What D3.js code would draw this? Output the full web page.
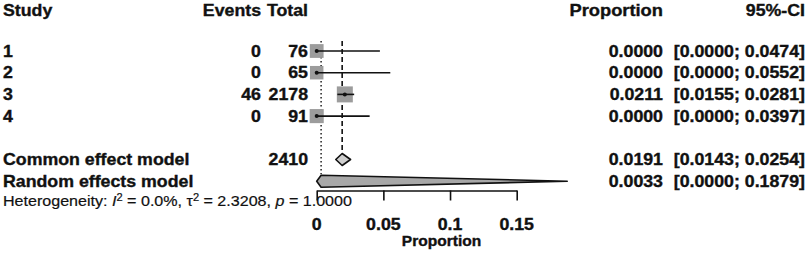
<!DOCTYPE html>
<html lang="en">
<head>
    <meta charset="UTF-8">
    <title>Forest plot - proportion</title>
    <script src="https://d3js.org/d3.v7.min.js"></script>
    <style>
        body {
            margin: 0;
            padding: 0;
            background: #fff;
        }

        #chart text {
            font-family: "Liberation Sans", Arial, Helvetica, sans-serif;
            fill: #111;
        }

        /* reference print is slightly heavy / blurred */
        #chart text.heavy {
            stroke: #111;
            stroke-width: 0.35px;
        }
    </style>
</head>
<body>
    <svg id="chart"></svg>

    <script>
        // Study level data
        const studies = ["1", "2", "3", "4"];
        const events = [0, 0, 46, 0];
        const totals = [76, 65, 2178, 91];
        const props = [0.0000, 0.0000, 0.0211, 0.0000];
        const lower = [0.0000, 0.0000, 0.0155, 0.0000];
        const upper = [0.0474, 0.0552, 0.0281, 0.0397];
        const weights = [23, 22, 31, 24]; // read from square sizes (approx.)

        // Pooled estimates
        const models = ["Common effect model", "Random effects model"];
        const modelTotals = [2410, null];
        const modelEst = [0.0191, 0.0033];
        const modelLower = [0.0143, 0.0000];
        const modelUpper = [0.0254, 0.1879];

        const hetI2 = "0.0%";
        const hetTau2 = "2.3208";
        const hetP = "1.0000";

        const xTicks = [0, 0.05, 0.1, 0.15];
        const xTickLabels = ["0", "0.05", "0.1", "0.15"];

        const W = 809, H = 258;
        const stretch = 1.11; // text in the reference is a bit wider than tall

        const svg = d3.select("#chart")
            .attr("width", W)
            .attr("height", H);

        const x = d3.scaleLinear()
            .domain([0, 0.15])
            .range([316.7, 516.7]);

        // row index -> vertical centre
        const y = d3.scaleLinear()
            .domain([0, 1])
            .range([51, 72.7]);

        const size = d3.scaleSqrt()
            .domain([0, d3.max(weights)])
            .range([0, 16]);

        // helper for stretched text
        function label(xPos, yPos, str, anchor, weight, fontSize) {
            return svg.append("text")
                .attr("class", "heavy")
                .attr("transform", `translate(${xPos},${yPos}) scale(${stretch},1)`)
                .attr("text-anchor", anchor)
                .style("font-weight", weight)
                .style("font-size", fontSize + "px")
                .text(str);
        }

        const colEvents = 261, colTotal = 308, colProp = 663, colCI = 805;
        const base = 5.5; // baseline offset from row centre

        // headers
        const headY = 16;
        label(3, headY, "Study", "start", "bold", 16);
        label(colEvents, headY, "Events", "end", "bold", 16);
        label(colTotal, headY, "Total", "end", "bold", 16);
        label(colProp, headY, "Proportion", "end", "bold", 16.5);
        label(colCI, headY, "95%-CI", "end", "bold", 16);

        // reference lines (common = dashed, random = dotted)
        svg.append("line")
            .attr("x1", x(modelEst[0])).attr("x2", x(modelEst[0]))
            .attr("y1", y(0) - 10).attr("y2", y(5) - 9)
            .attr("stroke", "#111")
            .attr("stroke-width", 1.6)
            .attr("stroke-dasharray", "5,3");

        svg.append("line")
            .attr("x1", x(modelEst[1])).attr("x2", x(modelEst[1]))
            .attr("y1", y(0) - 10).attr("y2", y(6) - 7)
            .attr("stroke", "#111")
            .attr("stroke-width", 1.4)
            .attr("stroke-dasharray", "1.5,2.5");

        // study rows
        studies.forEach((s, i) => {
            const cy = y(i);
            label(3, cy + base, s, "start", "bold", 16);
            label(colEvents, cy + base, events[i], "end", "bold", 16);
            label(colTotal, cy + base, totals[i], "end", "bold", 16);
            label(colProp, cy + base, d3.format(".4f")(props[i]), "end", "bold", 16);
            label(colCI, cy + base,
                `[${d3.format(".4f")(lower[i])}; ${d3.format(".4f")(upper[i])}]`,
                "end", "bold", 16);

            const sz = size(weights[i]);
            svg.append("rect")
                .attr("x", x(props[i]) - sz / 2)
                .attr("y", cy - sz / 2)
                .attr("width", sz)
                .attr("height", sz)
                .attr("fill", "#9c9c9c");

            svg.append("line")
                .attr("x1", x(lower[i])).attr("x2", x(upper[i]))
                .attr("y1", cy).attr("y2", cy)
                .attr("stroke", "#111")
                .attr("stroke-width", 1.6);

            svg.append("circle")
                .attr("cx", x(props[i]))
                .attr("cy", cy)
                .attr("r", 2)
                .attr("fill", "#111");
        });

        // pooled rows
        const diamondFill = ["#cfcfcf", "#a8a8a8"];
        models.forEach((m, j) => {
            const cy = y(5 + j);
            label(3, cy + base, m, "start", "bold", 16);
            if (modelTotals[j] !== null) {
                label(colTotal, cy + base, modelTotals[j], "end", "bold", 16);
            }
            label(colProp, cy + base, d3.format(".4f")(modelEst[j]), "end", "bold", 16);
            label(colCI, cy + base,
                `[${d3.format(".4f")(modelLower[j])}; ${d3.format(".4f")(modelUpper[j])}]`,
                "end", "bold", 16);

            const h = 6;
            const pts = [
                [x(modelLower[j]), cy],
                [x(modelEst[j]), cy - h],
                [x(modelUpper[j]), cy],
                [x(modelEst[j]), cy + h]
            ];
            svg.append("path")
                .attr("d", d3.line()(pts) + "Z")
                .attr("fill", diamondFill[j])
                .attr("stroke", "#111")
                .attr("stroke-width", 1.6)
                .attr("stroke-linejoin", "round");
        });

        // x axis
        const axisY = 190.5;
        const xAxis = d3.axisBottom(x)
            .tickValues(xTicks)
            .tickFormat((d, i) => xTickLabels[i])
            .tickSize(10)
            .tickSizeOuter(0);

        const axisG = svg.append("g")
            .attr("transform", `translate(0,${axisY})`)
            .call(xAxis);

        axisG.select(".domain")
            .attr("stroke", "#111")
            .attr("stroke-width", 1.6);
        axisG.selectAll(".tick line")
            .attr("stroke", "#111")
            .attr("stroke-width", 1.6);
        axisG.selectAll(".tick text").remove();

        xTicks.forEach((t, i) => {
            label(x(t), 229.5, xTickLabels[i], "middle", "bold", 16);
        });
        // axis title sits a little right of the axis centre in the reference
        label(x(0.0936), 246, "Proportion", "middle", "bold", 14);

        // heterogeneity line
        const het = svg.append("text")
            .attr("transform", `translate(3,206) scale(${stretch},1)`)
            .style("font-size", "14.5px")
            .style("stroke", "#111")
            .style("stroke-width", "0.2px");
        het.append("tspan").text("Heterogeneity: ");
        het.append("tspan").style("font-style", "italic").text("I");
        het.append("tspan").attr("dy", -5).style("font-size", "10px").text("2");
        het.append("tspan").attr("dy", 5).text(` = ${hetI2}, τ`);
        het.append("tspan").attr("dy", -5).style("font-size", "10px").text("2");
        het.append("tspan").attr("dy", 5).text(` = ${hetTau2}, `);
        het.append("tspan").style("font-style", "italic").text("p");
        het.append("tspan").text(` = ${hetP}`);
    </script>
</body>
</html>
